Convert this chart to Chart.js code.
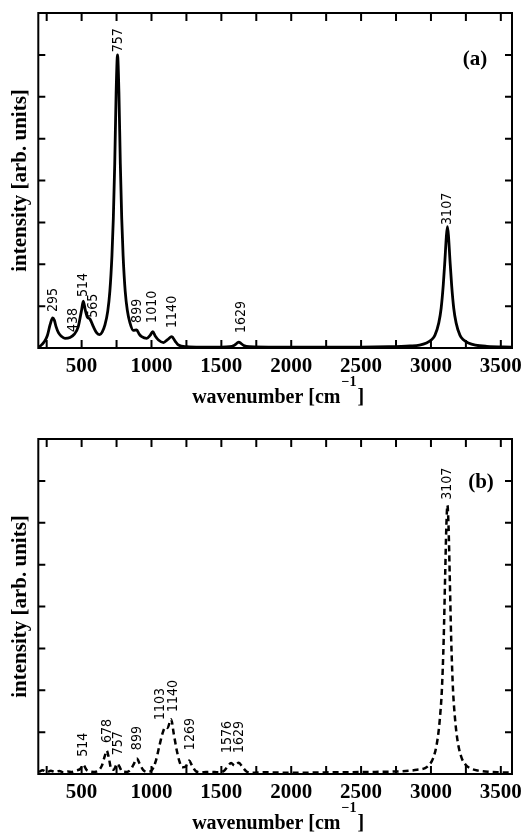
<!DOCTYPE html>
<html lang="en">
<head>
<meta charset="UTF-8">
<title>Spectra (a) and (b)</title>
<script src="https://cdn.jsdelivr.net/npm/chart.js"></script>
<style>
  html, body { margin: 0; padding: 0; background: #fff; }
  #wrap { position: relative; width: 525px; height: 834px; }
  canvas { position: absolute; left: 0; }
  #chartA { top: 0; }
  #chartB { top: 418px; }
</style>
</head>
<body>
<div id="wrap">
  <canvas id="chartA" width="525" height="418"></canvas>
  <canvas id="chartB" width="525" height="416"></canvas>
</div>
<script>
// axis ticks
const xTicks = [250, 500, 750, 1000, 1250, 1500, 1750, 2000, 2250, 2500, 2750, 3000, 3250, 3500];
const xLabels = [500, 1000, 1500, 2000, 2500, 3000, 3500];
const yTicks = [1, 2, 3, 4, 5, 6, 7];

// panel (a) - solid curve
const waveA = [195, 215, 235, 255, 274, 293, 305, 317, 335, 355, 381, 417, 448, 476, 500, 512, 526, 541, 560, 584,
  608, 630, 647, 667, 687, 702, 717, 727, 737, 747, 757, 767, 777, 787, 797, 812, 827, 846, 870, 894,
  912, 930, 966, 990, 1009, 1028, 1050, 1086, 1115, 1145, 1170, 1193, 1252, 1350, 1500, 1560, 1590, 1610, 1625, 1640,
  1660, 1700, 1900, 2200, 2500, 2700, 2850, 2918, 2968, 3002, 3028, 3056, 3073, 3088, 3100, 3110, 3118, 3126, 3136, 3148,
  3163, 3180, 3208, 3234, 3268, 3318, 3400, 3580];
const intA = [0.02, 0.08, 0.16, 0.30, 0.55, 0.72, 0.66, 0.51, 0.36, 0.28, 0.23, 0.25, 0.33, 0.51, 0.91, 1.12, 0.91, 0.74, 0.69, 0.51,
  0.36, 0.32, 0.38, 0.55, 0.88, 1.35, 2.2, 3.1, 4.4, 6.1, 7.0, 6.1, 4.4, 3.1, 2.2, 1.35, 0.9, 0.6, 0.42, 0.43,
  0.33, 0.27, 0.23, 0.30, 0.39, 0.28, 0.19, 0.13, 0.20, 0.27, 0.16, 0.07, 0.03, 0.02, 0.02, 0.03, 0.06, 0.11, 0.14, 0.11,
  0.06, 0.03, 0.02, 0.02, 0.02, 0.03, 0.05, 0.07, 0.12, 0.19, 0.30, 0.60, 0.95, 1.5, 2.1, 2.65, 2.9, 2.65, 2.1, 1.5,
  0.95, 0.60, 0.30, 0.19, 0.12, 0.07, 0.04, 0.02];
const peakTextA = ['295', '438', '514', '565', '757', '899', '1010', '1140', '1629', '3107'];
const peakXA = [295, 438, 510, 581, 760, 896, 1004, 1147, 1641, 3115];
const peakYA = [0.86, 0.38, 1.22, 0.72, 7.06, 0.6, 0.6, 0.48, 0.36, 2.94];

// panel (b) - dashed curve
const waveB = [195, 220, 250, 280, 310, 340, 370, 400, 430, 460, 490, 512, 535, 560, 590, 620, 645, 665, 680, 695,
  712, 730, 748, 757, 770, 790, 820, 850, 875, 895, 915, 940, 970, 1000, 1030, 1055, 1080, 1100, 1115, 1140,
  1160, 1180, 1200, 1220, 1245, 1270, 1290, 1320, 1360, 1420, 1480, 1520, 1545, 1570, 1595, 1625, 1650, 1680, 1720, 1800,
  2000, 2300, 2600, 2750, 2850, 2900, 2958, 2988, 3016, 3038, 3054, 3067, 3078, 3091, 3102, 3110, 3118, 3126, 3134, 3145,
  3158, 3169, 3182, 3198, 3220, 3248, 3279, 3338, 3420, 3500, 3580];
const intB = [0.05, 0.09, 0.04, 0.08, 0.05, 0.07, 0.04, 0.06, 0.05, 0.08, 0.12, 0.22, 0.10, 0.06, 0.05, 0.08, 0.20, 0.42, 0.56, 0.38,
  0.12, 0.10, 0.22, 0.25, 0.18, 0.06, 0.05, 0.10, 0.25, 0.37, 0.25, 0.10, 0.05, 0.08, 0.30, 0.65, 0.98, 1.12, 1.10, 1.31,
  0.95, 0.58, 0.30, 0.16, 0.18, 0.32, 0.20, 0.06, 0.04, 0.05, 0.04, 0.08, 0.18, 0.26, 0.20, 0.27, 0.17, 0.06, 0.03, 0.04,
  0.03, 0.04, 0.05, 0.06, 0.08, 0.10, 0.14, 0.22, 0.38, 0.65, 1.0, 1.45, 2.0, 3.2, 4.8, 5.9, 6.42, 5.9, 4.8, 3.2,
  2.0, 1.45, 1.0, 0.65, 0.38, 0.22, 0.14, 0.08, 0.05, 0.04, 0.03];
const peakTextB = ['514', '678', '757', '899', '1103', '1140', '1269', '1576', '1629', '3107'];
const peakXB = [510, 682, 760, 896, 1061, 1154, 1276, 1540, 1626, 3115];
const peakYB = [0.41, 0.74, 0.45, 0.57, 1.29, 1.48, 0.57, 0.5, 0.5, 6.55];

const serif = '"Liberation Serif", "Times New Roman", serif';

// frame, inward ticks, peak labels, panel letter and x title with superscript
function makeDecor(texts, lx, ly, letter, letterDx, letterDy) {
  return {
    id: 'decor',
    afterDraw(chart) {
      const { ctx, chartArea: a, scales: { x, y } } = chart;
      ctx.save();
      ctx.strokeStyle = '#000';
      ctx.fillStyle = '#000';
      ctx.lineWidth = 2;
      ctx.strokeRect(a.left, a.top, a.right - a.left, a.bottom - a.top);
      ctx.beginPath();
      xTicks.forEach(v => {
        const px = x.getPixelForValue(v);
        ctx.moveTo(px, a.bottom); ctx.lineTo(px, a.bottom - 8);
        ctx.moveTo(px, a.top); ctx.lineTo(px, a.top + 8);
      });
      yTicks.forEach(v => {
        const py = y.getPixelForValue(v);
        ctx.moveTo(a.left, py); ctx.lineTo(a.left + 7, py);
        ctx.moveTo(a.right, py); ctx.lineTo(a.right - 7, py);
      });
      ctx.stroke();

      ctx.font = '14px "DejaVu Sans Condensed", "DejaVu Sans", sans-serif';
      ctx.textAlign = 'left';
      ctx.textBaseline = 'middle';
      texts.forEach((t, i) => {
        ctx.save();
        ctx.translate(x.getPixelForValue(lx[i]), y.getPixelForValue(ly[i]));
        ctx.rotate(-Math.PI / 2);
        ctx.fillText(t, 0, 0);
        ctx.restore();
      });

      ctx.font = 'bold 21px ' + serif;
      ctx.textAlign = 'center';
      ctx.fillText(letter, a.right - letterDx, a.top + letterDy);

      // x axis title
      const mainFont = 'bold 20px ' + serif, supFont = 'bold 14px ' + serif;
      ctx.textAlign = 'left';
      ctx.textBaseline = 'alphabetic';
      ctx.font = mainFont;
      const w1 = ctx.measureText('wavenumber [cm').width;
      const w3 = ctx.measureText(']').width;
      ctx.font = supFont;
      const w2 = ctx.measureText('\u22121').width;
      let tx = (a.left + a.right) / 2 + 3 - (w1 + w2 + w3 + 2) / 2;
      const base = a.bottom + 55;
      ctx.font = mainFont;
      ctx.fillText('wavenumber [cm', tx, base);
      ctx.font = supFont;
      ctx.fillText('\u22121', tx + w1 + 1, base - 17);
      ctx.font = mainFont;
      ctx.fillText(']', tx + w1 + w2 + 2, base);
      ctx.restore();
    }
  };
}

function makeChart(id, waves, vals, dashed, plotTop, axisHeight, decor) {
  const points = waves.map((w, i) => ({ x: w, y: vals[i] }));
  return new Chart(document.getElementById(id), {
    type: 'line',
    data: {
      datasets: [{
        data: points,
        borderColor: '#000',
        borderWidth: dashed ? 2.5 : 2.8,
        borderDash: dashed ? [6, 4] : [],
        pointRadius: 0,
        fill: false,
        cubicInterpolationMode: 'monotone'
      }]
    },
    options: {
      responsive: false,
      animation: false,
      layout: { padding: { top: plotTop, right: 13, left: 0, bottom: 0 } },
      plugins: { legend: { display: false }, tooltip: { enabled: false } },
      scales: {
        x: {
          type: 'linear',
          min: 190,
          max: 3580,
          afterBuildTicks: s => { s.ticks = xTicks.map(v => ({ value: v })); },
          afterFit: s => { s.height = axisHeight; s.paddingLeft = 0; s.paddingRight = 0; },
          grid: { display: false, drawTicks: false },
          border: { display: false },
          ticks: {
            autoSkip: false,
            maxRotation: 0,
            minRotation: 0,
            padding: 6,
            color: '#000',
            font: { family: serif, size: 21, weight: 'bold' },
            callback: v => xLabels.includes(v) ? String(v) : ''
          }
        },
        y: {
          min: 0,
          max: 8,
          afterBuildTicks: s => { s.ticks = yTicks.map(v => ({ value: v })); },
          afterFit: s => { s.width = 38.3; },
          grid: { display: false, drawTicks: false },
          border: { display: false },
          ticks: { display: false },
          title: {
            display: true,
            text: 'intensity [arb. units]',
            color: '#000',
            padding: { top: 8, bottom: 0 },
            font: { family: serif, size: 21, weight: 'bold' }
          }
        }
      }
    },
    plugins: [decor]
  });
}

makeChart('chartA', waveA, intA, false, 13, 418 - 348,
  makeDecor(peakTextA, peakXA, peakYA, '(a)', 37, 47));
makeChart('chartB', waveB, intB, true, 21, 416 - 356,
  makeDecor(peakTextB, peakXB, peakYB, '(b)', 31, 44));
</script>
</body>
</html>
